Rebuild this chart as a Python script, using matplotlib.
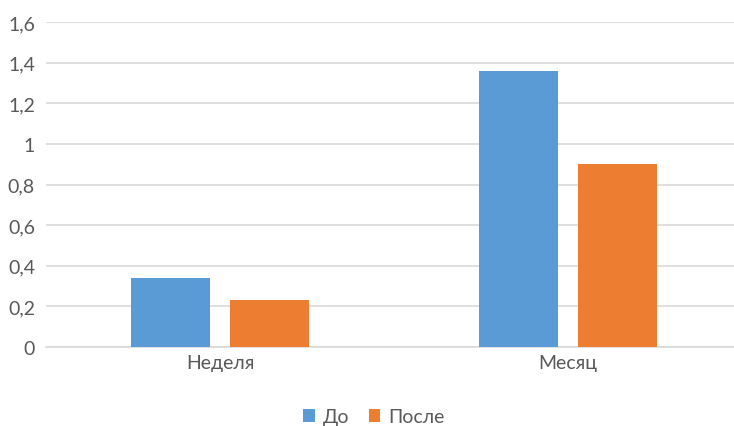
import matplotlib.pyplot as plt
import numpy as np

categories = ['Неделя', 'Месяц']
do_values = [0.34, 1.36]
posle_values = [0.23, 0.9]
series_names = ['До', 'После']
y_ticks = [0, 0.2, 0.4, 0.6, 0.8, 1, 1.2, 1.4, 1.6]

plt.rcParams['font.family'] = ['Lato', 'DejaVu Sans']
text_color = '#595959'

fig = plt.figure(figsize=(7.34, 4.27), dpi=100)
# область построения в пикселях: слева 46, сверху 23, снизу 348
ax = fig.add_axes([46 / 734, 1 - 348 / 427, 1 - 46 / 734, (348 - 23) / 427])

x = np.arange(len(categories))
w = 0.227
off = 0.142
ax.bar(x - off, do_values, w, color='#5B9BD5', label=series_names[0], zorder=3)
ax.bar(x + off, posle_values, w, color='#ED7D31', label=series_names[1], zorder=3)

ax.set_xlim(-0.5, 1.477)
ax.set_ylim(0, 1.6)
ax.set_yticks(y_ticks)
ax.set_yticklabels([('%g' % v).replace('.', ',') for v in y_ticks])
ax.set_xticks(x)
ax.set_xticklabels(categories)

ax.grid(axis='y', color='#D9D9D9', linewidth=1.2, zorder=0)
for s in ['top', 'right', 'left']:
    ax.spines[s].set_visible(False)
ax.spines['bottom'].set_color('#D9D9D9')
ax.spines['bottom'].set_linewidth(1.2)
ax.tick_params(axis='both', length=0, colors=text_color, labelsize=14)
ax.tick_params(axis='y', pad=8)
ax.tick_params(axis='x', pad=5)

fig.legend(loc='center', bbox_to_anchor=(374 / 734, 1 - 418 / 427), ncol=2,
           frameon=False, fontsize=14, labelcolor=text_color,
           handlelength=0.6, handleheight=0.6, handletextpad=0.4, columnspacing=1.0)

fig.savefig('out.png', dpi=100)
